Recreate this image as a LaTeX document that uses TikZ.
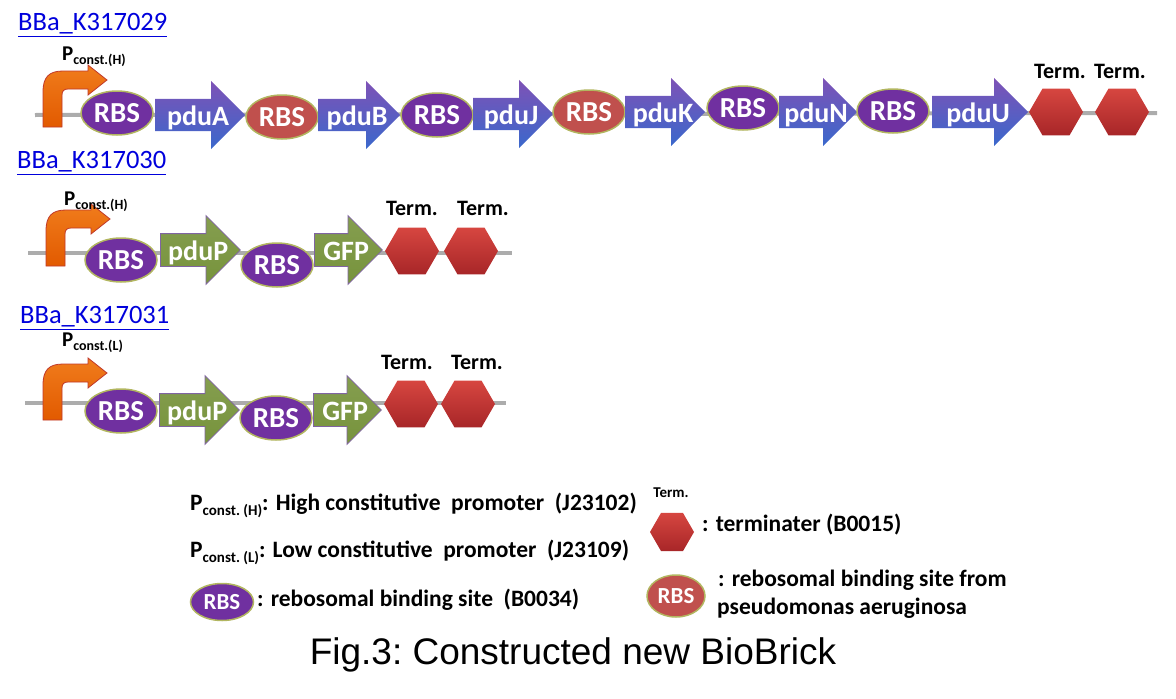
\documentclass[tikz,border=0pt]{standalone}
\usepackage{fontspec}
\setmainfont{Carlito}
\newfontfamily\arialfont{Liberation Sans}
\usetikzlibrary{shapes.geometric,shapes.arrows}

\definecolor{backgray}{RGB}{172,172,172}
\definecolor{rbspurple}{RGB}{112,48,160}
\definecolor{rbsred}{RGB}{192,80,77}
\definecolor{rbsedge}{RGB}{178,182,96}
\definecolor{genetop}{RGB}{126,82,182}
\definecolor{genebot}{RGB}{58,104,204}
\definecolor{greengene}{RGB}{119,147,60}
\definecolor{greenedge}{RGB}{128,100,162}
\definecolor{termtop}{RGB}{214,70,64}
\definecolor{termbot}{RGB}{168,38,40}
\definecolor{promtop}{RGB}{240,124,28}
\definecolor{prombot}{RGB}{226,90,0}
\definecolor{promedge}{RGB}{192,57,43}
\definecolor{linkblue}{RGB}{0,0,220}

\tikzset{
  promoter/.pic={
    \draw[draw=promedge, line width=0.8pt, top color=promtop, bottom color=prombot]
      (0,0) -- (0,-35) .. controls (0,-50) and (6,-56) .. (20,-56) -- (45,-56)
      -- (45,-62) -- (64,-47) -- (45,-32) -- (45,-38) -- (25,-38)
      .. controls (21,-38) and (19,-36) .. (19,-32) -- (19,0) -- cycle;
  }
}

\begin{document}
\begin{tikzpicture}
  [
    x=1pt, y=-1pt,
    backbone/.style={draw=backgray, line width=4pt},
    rbs/.style={ellipse, draw=rbsedge, line width=1.5pt, fill=rbspurple, text=white,
      font=\bfseries\fontsize{29}{31}\selectfont, minimum width=72pt, minimum height=44pt, inner sep=0pt},
    rbsred/.style={rbs, fill=rbsred},
    gene/.style={single arrow, single arrow head extend=18pt, text height=21pt, text depth=1pt,
      inner ysep=5pt, inner xsep=-20pt, minimum height=#1, anchor=tail, text=white,
      execute at begin node=\hspace{12pt},
      font=\bfseries\fontsize{28}{30}\selectfont, top color=genetop, bottom color=genebot},
    gene/.default=82pt,
    greengene/.style={gene=#1, draw=greenedge, line width=0.8pt, top color=greengene!90!white, bottom color=greengene},
    greengene/.default=80pt,
    term/.style={regular polygon, regular polygon sides=6, minimum size=54pt, inner sep=0pt,
      top color=termtop, bottom color=termbot},
    termlabel/.style={font=\bfseries\fontsize{22}{24}\selectfont},
    plabel/.style={anchor=west, inner sep=0pt},
    partname/.style={anchor=west, inner sep=0pt, text=linkblue, font=\fontsize{26.5}{28}\selectfont},
    legend/.style={anchor=west, inner sep=0pt, font=\bfseries\fontsize{23.5}{26}\selectfont}
  ]
  \useasboundingbox (0,0) rectangle (1176,699);

  % BBa_K317029
  \node[partname] (part1) at (18,25) {\underline{BBa\_K317029}};
  \draw[backbone] (35,115) -- (1157,113);
  \pic at (43,127) {promoter};
  \node[plabel] (p1) at (62,57) {\fontsize{21}{22}\selectfont\bfseries P\raisebox{-4pt}{\fontsize{14}{15}\selectfont const.(H)}};
  \node[rbs] (r1) at (117,113) {RBS};
  \node[gene=90pt] (pduA) at (155,115) {pduA};
  \node[rbsred] (r2) at (282,117) {RBS};
  \node[gene=82pt] (pduB) at (318,115) {pduB};
  \node[rbs] (r3) at (437,115) {RBS};
  \node[gene=80pt] (pduJ) at (473,114) {pduJ};
  \node[rbsred] (r4) at (589,112) {RBS};
  \node[gene=80pt] (pduK) at (625,112) {pduK};
  \node[rbs] (r5) at (743,108) {RBS};
  \node[gene=78pt] (pduN) at (779,112) {pduN};
  \node[rbs] (r6) at (893,111) {RBS};
  \node[gene=96pt] (pduU) at (932,112) {pduU};
  \node[term] (t1) at (1056,112) {};
  \node[term] (t2) at (1122,112) {};
  \node[termlabel] (tl1) at (1060,71) {Term.};
  \node[termlabel] (tl2) at (1120,71) {Term.};

  % BBa_K317030
  \node[partname] (part2) at (17,163) {\underline{BBa\_K317030}};
  \draw[backbone] (28,253) -- (512,253);
  \pic at (46,266) {promoter};
  \node[plabel] (p2) at (64,202) {\fontsize{21}{22}\selectfont\bfseries P\raisebox{-4pt}{\fontsize{14}{15}\selectfont const.(H)}};
  \node[rbs] (r7) at (121,260) {RBS};
  \node[greengene=80pt] (pduP1) at (160,250) {pduP};
  \node[rbs] (r8) at (277,265) {RBS};
  \node[greengene=68pt] (gfp1) at (314,250) {GFP};
  \node[term] (t3) at (412,251) {};
  \node[term] (t4) at (471,251) {};
  \node[termlabel] (tl3) at (412,208) {Term.};
  \node[termlabel] (tl4) at (483,208) {Term.};

  % BBa_K317031
  \node[partname] (part3) at (20,318) {\underline{BBa\_K317031}};
  \draw[backbone] (25,403) -- (506,403);
  \pic at (43,420) {promoter};
  \node[plabel] (p3) at (62,343) {\fontsize{21}{22}\selectfont\bfseries P\raisebox{-4pt}{\fontsize{14}{15}\selectfont const.(L)}};
  \node[rbs] (r9) at (121,411) {RBS};
  \node[greengene=80pt] (pduP2) at (159,410) {pduP};
  \node[rbs] (r10) at (276,418) {RBS};
  \node[greengene=68pt] (gfp2) at (313,410) {GFP};
  \node[term] (t5) at (411,404) {};
  \node[term] (t6) at (468,404) {};
  \node[termlabel] (tl5) at (407,362) {Term.};
  \node[termlabel] (tl6) at (477,362) {Term.};

  % legend
  \node[legend] (lh) at (190,505) {P\raisebox{-5pt}{\fontsize{15}{17}\selectfont const.\ (H)}: High constitutive\ \ promoter\ \ (J23102)};
  \node[legend] (ll) at (190,552) {P\raisebox{-5pt}{\fontsize{15}{17}\selectfont const.\ (L)}: Low constitutive\ \ promoter\ \ (J23109)};
  \node[rbs, minimum width=63pt, minimum height=37pt, font=\bfseries\fontsize{23}{25}\selectfont] (lr1) at (222,602) {RBS};
  \node[legend] (lr1t) at (257,600) {: rebosomal binding site\ \ (B0034)};
  \node[font=\bfseries\fontsize{15}{16}\selectfont] (lt) at (671,493) {Term.};
  \node[term, minimum size=44pt] (lterm) at (672,532) {};
  \node[legend] (ltt) at (702,525) {: terminater (B0015)};
  \node[rbsred, minimum width=58pt, minimum height=42pt, font=\bfseries\fontsize{23}{25}\selectfont] (lr2) at (676,596) {RBS};
  \node[legend] (lr2t) at (718,580) {: rebosomal binding site from};
  \node[legend] (lr2u) at (717,608) {pseudomonas aeruginosa};

  \node[font=\arialfont\fontsize{37}{40}\selectfont] (caption) at (573,655) {Fig.3:\ Constructed new BioBrick};
\end{tikzpicture}
\end{document}
